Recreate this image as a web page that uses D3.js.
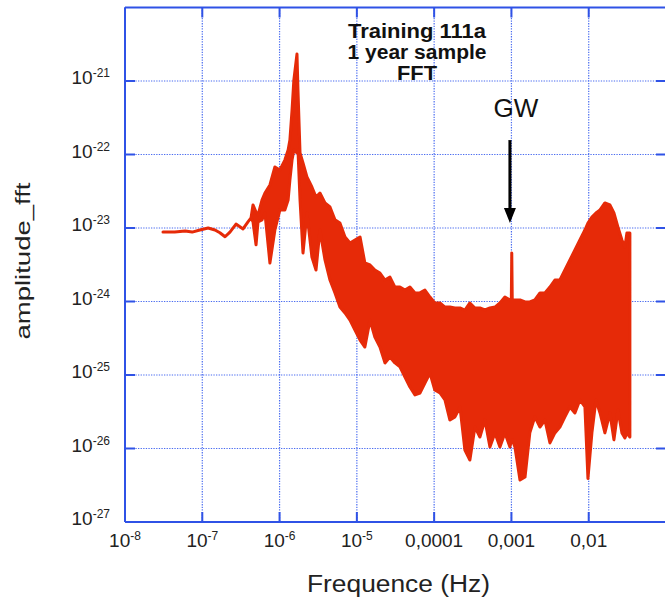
<!DOCTYPE html>
<html>
<head>
<meta charset="utf-8">
<script src="https://cdn.jsdelivr.net/npm/d3@7"></script>
<style>
  body { margin: 0; background: #fff; }
  text { font-family: "Liberation Sans", Arial, Helvetica, sans-serif; fill: #222; }
</style>
</head>
<body>
<div id="chart"></div>
<script>
// spectrum: upper and lower envelope at each frequency
let freq = [
  3.1e-8, 4.4e-8, 6.0e-8, 7.4e-8, 9.3e-8, 1.19e-7, 1.46e-7, 1.69e-7, 1.97e-7, 2.28e-7,
  2.73e-7, 3.37e-7, 3.9e-7, 4.27e-7, 4.53e-7, 4.96e-7, 5.26e-7, 5.92e-7, 6.47e-7, 7.5e-7,
  8.7e-7, 1.01e-6, 1.17e-6, 1.29e-6, 1.36e-6, 1.45e-6, 1.53e-6, 1.68e-6, 1.73e-6, 1.84e-6,
  2.01e-6, 2.26e-6, 2.62e-6, 2.96e-6, 3.33e-6, 3.87e-6, 4.49e-6, 5.21e-6, 6.04e-6, 7.02e-6,
  8.15e-6, 9.45e-6, 1.10e-5, 1.27e-5, 1.48e-5, 1.71e-5, 1.99e-5, 2.31e-5, 2.68e-5, 3.11e-5,
  3.61e-5, 4.19e-5, 4.86e-5, 5.65e-5, 6.55e-5, 7.60e-5, 8.83e-5, 1.02e-4, 1.19e-4, 1.38e-4,
  1.60e-4, 1.86e-4, 2.16e-4, 2.50e-4, 2.90e-4, 3.37e-4, 3.91e-4, 4.54e-4, 5.27e-4, 6.12e-4,
  7.10e-4, 8.24e-4, 9.57e-4, 9.97e-4, 1.01e-3, 1.025e-3, 1.11e-3, 1.29e-3, 1.50e-3, 1.73e-3, 2.01e-3, 2.34e-3,
  2.71e-3, 3.15e-3, 3.65e-3, 4.24e-3, 4.92e-3, 5.71e-3, 6.63e-3, 7.69e-3, 8.93e-3, 9.77e-3,
  1.10e-2, 1.24e-2, 1.40e-2, 1.62e-2, 1.88e-2, 2.12e-2, 2.39e-2, 2.69e-2, 2.94e-2, 3.12e-2, 3.41e-2
];
let ampHigh = [
  8.8e-24, 8.8e-24, 9.1e-24, 8.8e-24, 9.4e-24, 1.0e-23, 9.4e-24, 8.6e-24, 7.6e-24, 8.8e-24,
  1.13e-23, 9.7e-24, 1.21e-23, 1.37e-23, 2.06e-23, 1.65e-23, 1.50e-23, 2.40e-23, 2.99e-23, 3.85e-23,
  6.76e-23, 6.15e-23, 8.4e-23, 1.15e-22, 1.57e-22, 4.03e-22, 1.03e-21, 2.33e-21, 7.55e-22, 1.05e-22,
  7.66e-23, 4.94e-23, 3.61e-23, 2.64e-23, 2.99e-23, 2.19e-23, 1.93e-23, 1.29e-23, 1.17e-23, 7.55e-24,
  6.25e-24, 6.87e-24, 7.55e-24, 3.34e-24, 3.14e-24, 2.68e-24, 2.44e-24, 1.96e-24, 2.15e-24, 1.57e-24,
  1.57e-24, 1.43e-24, 1.57e-24, 1.31e-24, 1.31e-24, 1.43e-24, 1.15e-24, 9.55e-25, 9.55e-25, 8.4e-25,
  8.4e-25, 8.17e-25, 8.17e-25, 7.66e-25, 9.55e-25, 8.17e-25, 8.17e-25, 7.66e-25, 8.17e-25, 8.4e-25,
  9.55e-25, 1.15e-24, 1.05e-24, 1.05e-24, 4.57e-24, 1.05e-24, 1.05e-24, 1.05e-24, 9.85e-25, 9.85e-25, 1.05e-24, 1.31e-24,
  1.31e-24, 1.57e-24, 1.96e-24, 1.96e-24, 2.68e-24, 3.67e-24, 5.02e-24, 6.87e-24, 9.4e-24, 1.17e-23,
  1.41e-23, 1.60e-23, 1.76e-23, 2.19e-23, 2.06e-23, 1.60e-23, 1.03e-23, 6.87e-24, 5.5e-24, 8.55e-24, 8.55e-24
];
let ampLow = [
  8.8e-24, 8.8e-24, 9.1e-24, 8.8e-24, 9.4e-24, 1.0e-23, 9.4e-24, 8.6e-24, 7.6e-24, 8.8e-24,
  1.13e-23, 9.7e-24, 1.21e-23, 1.37e-23, 1.21e-23, 5.9e-24, 1.21e-23, 1.29e-23, 1.60e-23, 3.34e-24,
  9.4e-24, 1.76e-23, 1.76e-23, 2.40e-23, 4.5e-23, 8.4e-23, 1.15e-22, 1.05e-22, 1.15e-22, 2.40e-23,
  4.57e-24, 1.60e-23, 4.03e-24, 2.68e-24, 9.4e-24, 3.67e-24, 1.96e-24, 1.31e-24, 8.4e-25, 6.98e-25,
  5.6e-25, 4.09e-25, 2.99e-25, 2.40e-25, 5.6e-25, 3.29e-25, 2.40e-25, 1.46e-25, 1.76e-25, 1.46e-25,
  1.29e-25, 9.4e-26, 6.87e-26, 5.35e-26, 5.69e-26, 7.78e-26, 1.06e-25, 6.25e-26, 5.69e-26, 4.57e-26,
  2.44e-26, 2.69e-26, 3.67e-26, 9.55e-27, 6.98e-27, 1.96e-26, 1.43e-26, 2.44e-26, 1.05e-26, 1.63e-26,
  1.05e-26, 1.63e-26, 1.05e-26, 1.31e-26, 1.31e-26, 1.31e-26, 1.05e-26, 3.72e-27, 4.09e-27, 1.63e-26, 2.69e-26, 1.96e-26,
  2.44e-26, 1.19e-26, 1.63e-26, 1.96e-26, 2.69e-26, 3.67e-26, 3.04e-26, 4.57e-26, 3.67e-26, 3.9e-27,
  1.63e-26, 4.57e-26, 3.04e-26, 1.63e-26, 3.04e-26, 1.31e-26, 3.34e-26, 1.63e-26, 1.39e-26, 1.63e-26, 1.43e-26
];

// ticks
let xTicks = [1e-8, 1e-7, 1e-6, 1e-5, 1e-4, 1e-3, 1e-2];
let xTickLabels = [['10', '-8'], ['10', '-7'], ['10', '-6'], ['10', '-5'], ['0,0001', ''], ['0,001', ''], ['0,01', '']];
let yTicks = [1e-21, 1e-22, 1e-23, 1e-24, 1e-25, 1e-26, 1e-27];
let yTickLabels = ['-21', '-22', '-23', '-24', '-25', '-26', '-27'];

let titleLines = ['Training 111a', '1 year sample', 'FFT'];
let gwFreq = 1e-3;

let width = 665, height = 602;
let plot = {left: 125, right: 666, top: 7.5, bottom: 522};

let axisBlue = '#2f52e6';
let gridBlue = '#4a6cf0';
let red = '#e62a08';

let x = d3.scaleLog().domain([1e-8, 1e-1]).range([plot.left, plot.right]);
let y = d3.scaleLog().domain([1e-27, 1e-20]).range([plot.bottom, plot.top]);

let svg = d3.select('#chart').append('svg')
  .attr('width', width)
  .attr('height', height);

// dotted grid
svg.append('g').selectAll('line')
  .data(xTicks.slice(1))
  .enter().append('line')
    .attr('x1', d => x(d)).attr('x2', d => x(d))
    .attr('y1', plot.top).attr('y2', plot.bottom)
    .attr('stroke', gridBlue)
    .attr('stroke-width', 1.2)
    .attr('stroke-dasharray', '1.3,1.3');

svg.append('g').selectAll('line')
  .data(yTicks.slice(0, -1))
  .enter().append('line')
    .attr('x1', plot.left).attr('x2', plot.right)
    .attr('y1', d => y(d)).attr('y2', d => y(d))
    .attr('stroke', gridBlue)
    .attr('stroke-width', 1.2)
    .attr('stroke-dasharray', '1.3,1.3');

// spectrum band
let data = freq.map((f, i) => ({f: f, hi: ampHigh[i], lo: ampLow[i]}));
let area = d3.area()
  .x(d => x(d.f))
  .y0(d => y(d.lo))
  .y1(d => y(d.hi));

svg.append('path')
  .datum(data)
  .attr('d', area)
  .attr('fill', red)
  .attr('stroke', red)
  .attr('stroke-width', 3)
  .attr('stroke-linejoin', 'round');

// frame
let frame = svg.append('g')
  .attr('stroke', axisBlue)
  .attr('stroke-width', 2);
frame.append('line').attr('x1', plot.left).attr('x2', plot.left).attr('y1', plot.top).attr('y2', plot.bottom);
frame.append('line').attr('x1', plot.left).attr('x2', plot.right).attr('y1', plot.bottom).attr('y2', plot.bottom);
frame.append('line').attr('x1', plot.left).attr('x2', plot.right).attr('y1', plot.top).attr('y2', plot.top);
frame.append('line').attr('x1', plot.right).attr('x2', plot.right).attr('y1', plot.top).attr('y2', plot.bottom);

// inward ticks on all four sides
let tickLen = 10;
xTicks.forEach(d => {
  frame.append('line').attr('x1', x(d)).attr('x2', x(d)).attr('y1', plot.bottom).attr('y2', plot.bottom - tickLen);
  frame.append('line').attr('x1', x(d)).attr('x2', x(d)).attr('y1', plot.top).attr('y2', plot.top + tickLen);
});
yTicks.forEach(d => {
  frame.append('line').attr('x1', plot.left).attr('x2', plot.left + tickLen).attr('y1', y(d)).attr('y2', y(d));
  frame.append('line').attr('x1', plot.right).attr('x2', plot.right - tickLen).attr('y1', y(d)).attr('y2', y(d));
});

// x tick labels
let xl = svg.append('g').selectAll('text')
  .data(xTicks)
  .enter().append('text')
    .attr('x', d => x(d))
    .attr('y', 547)
    .attr('text-anchor', 'middle')
    .style('font-size', '19px');
xl.append('tspan').text((d, i) => xTickLabels[i][0]);
xl.append('tspan')
  .attr('dy', -7)
  .style('font-size', '12px')
  .text((d, i) => xTickLabels[i][1]);

// y tick labels
let yl = svg.append('g').selectAll('text')
  .data(yTicks)
  .enter().append('text')
    .attr('x', 110)
    .attr('y', d => y(d) + 3)
    .attr('text-anchor', 'end')
    .style('font-size', '19px');
yl.append('tspan').text('10');
yl.append('tspan')
  .attr('dy', -7)
  .style('font-size', '12px')
  .text((d, i) => yTickLabels[i]);

// axis titles
svg.append('text')
  .attr('x', 398.5)
  .attr('y', 592)
  .attr('text-anchor', 'middle')
  .attr('textLength', 183)
  .attr('lengthAdjust', 'spacingAndGlyphs')
  .style('font-size', '23px')
  .text('Frequence (Hz)');

svg.append('text')
  .attr('transform', 'translate(30, 261) rotate(-90)')
  .attr('text-anchor', 'middle')
  .attr('textLength', 157)
  .attr('lengthAdjust', 'spacingAndGlyphs')
  .style('font-size', '20px')
  .text('amplitude_fft');

// title block
let titleLens = [138, 139, 40];
svg.append('g').selectAll('text')
  .data(titleLines)
  .enter().append('text')
    .attr('x', 417)
    .attr('y', (d, i) => [38, 59, 80][i])
    .attr('text-anchor', 'middle')
    .attr('textLength', (d, i) => titleLens[i])
    .attr('lengthAdjust', 'spacingAndGlyphs')
    .style('font-size', '20px')
    .style('font-weight', 'bold')
    .style('fill', '#111')
    .text(d => d);

// GW annotation
let gx = x(gwFreq) - 1.5;
svg.append('text')
  .attr('x', gx + 6)
  .attr('y', 117)
  .attr('text-anchor', 'middle')
  .style('font-size', '26px')
  .style('fill', '#111')
  .text('GW');

svg.append('line')
  .attr('x1', gx).attr('x2', gx)
  .attr('y1', y(1.57e-22)).attr('y2', y(1.17e-23) - 10)
  .attr('stroke', '#000')
  .attr('stroke-width', 3);
svg.append('path')
  .attr('d', `M${gx - 6},${y(1.17e-23) - 15} L${gx + 6},${y(1.17e-23) - 15} L${gx},${y(1.17e-23)} Z`)
  .attr('fill', '#000');
</script>
</body>
</html>
